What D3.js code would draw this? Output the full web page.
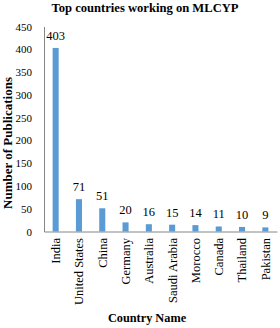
<!DOCTYPE html>
<html><head><meta charset="utf-8">
<script src="https://cdn.jsdelivr.net/npm/d3@7"></script>
<style>body{margin:0;background:#fff}svg{display:block}</style>
</head><body>
<script>
const countries = ["India","United States","China","Germany","Australia","Saudi Arabia","Morocco","Canada","Thailand","Pakistan"];
const publications = [403,71,51,20,16,15,14,11,10,9];
const yTicks = [0,50,100,150,200,250,300,350,400,450];

const W=280,H=328;
const svg=d3.select("body").append("svg").attr("width",W).attr("height",H);
const font="Liberation Serif, Times New Roman, serif";
const x=d3.scaleBand().domain(countries).range([44,277]).paddingInner(0.74).paddingOuter(0.37);
const y=d3.scaleLinear().domain([0,450]).range([231.5,26.5]);

svg.append("text").attr("x",145).attr("y",12).attr("text-anchor","middle")
  .style("font-family",font).attr("font-weight","bold").attr("font-size",12.6).text("Top countries working on MLCYP");

const ya=svg.append("g").attr("transform","translate(44,0)")
  .call(d3.axisLeft(y).tickValues(yTicks).tickSize(0).tickPadding(12));
ya.attr("font-family",null).attr("font-size",null);
ya.select(".domain").attr("stroke","#868686");
ya.selectAll("text").style("font-family",font).attr("font-size",11).attr("fill","#000");

svg.selectAll("rect.bar").data(countries).join("rect").attr("class","bar")
  .attr("x",d=>x(d)).attr("width",x.bandwidth())
  .attr("y",(d,i)=>y(publications[i])).attr("height",(d,i)=>y(0)-y(publications[i]))
  .attr("fill","#5B9BD5");

svg.selectAll("text.val").data(countries).join("text").attr("class","val")
  .attr("x",d=>x(d)+x.bandwidth()/2).attr("y",(d,i)=>y(publications[i])-8)
  .attr("text-anchor","middle").style("font-family",font).attr("font-size",12.5).text((d,i)=>publications[i]);

const xa=svg.append("g").attr("transform","translate(0,231.5)")
  .call(d3.axisBottom(x).tickSize(0).tickPadding(0));
xa.attr("font-family",null).attr("font-size",null);
xa.select(".domain").attr("stroke","#868686");
xa.selectAll("text").style("font-family",font).attr("font-size",12.5).attr("fill","#000")
  .attr("text-anchor","end").attr("dy","0.35em")
  .attr("transform","translate(0,6.5) rotate(-90)").attr("x",0).attr("y",0);

svg.append("text").attr("x",147).attr("y",322).attr("text-anchor","middle")
  .style("font-family",font).attr("font-weight","bold").attr("font-size",12.3).text("Country Name");

svg.append("text").attr("transform","translate(12,143) rotate(-90)").attr("text-anchor","middle")
  .style("font-family",font).attr("font-weight","bold").attr("font-size",13).text("Number of Publications");
</script>
</body></html>
